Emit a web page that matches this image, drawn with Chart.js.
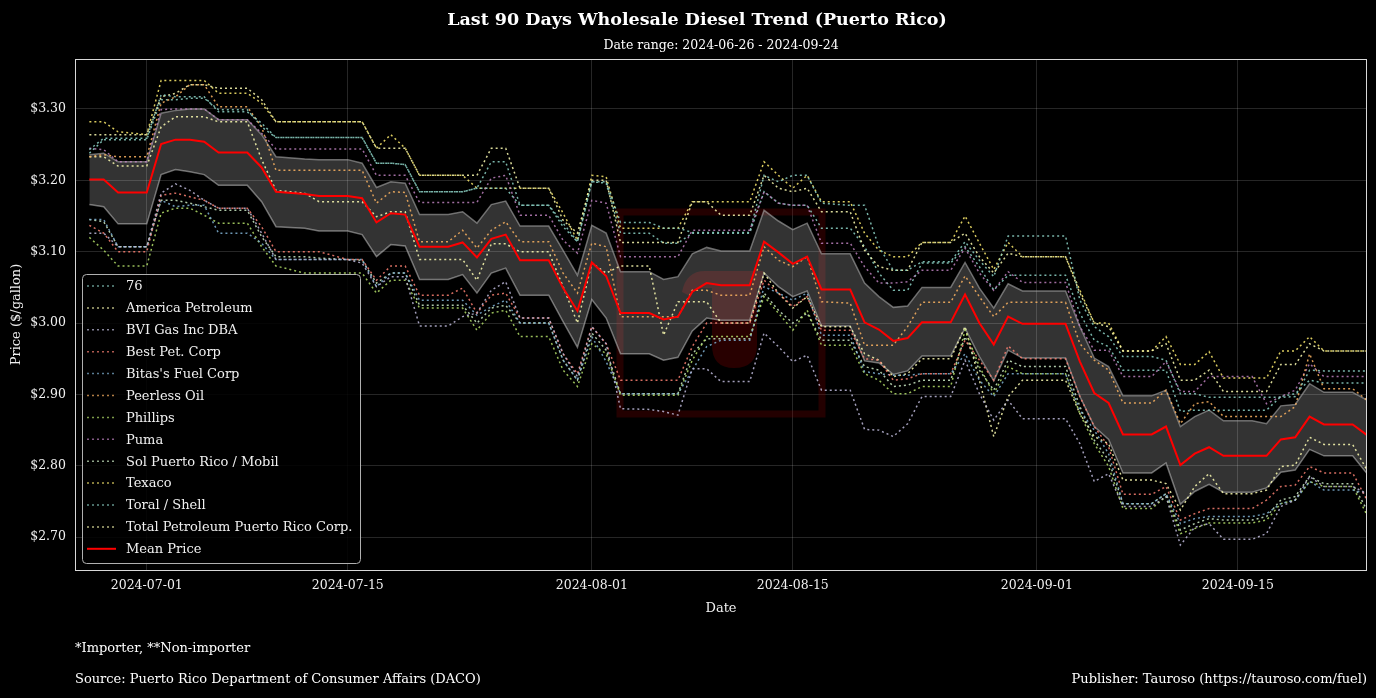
<!DOCTYPE html>
<html>
<head>
<meta charset="utf-8">
<title>Last 90 Days Wholesale Diesel Trend (Puerto Rico)</title>
<script src="https://cdn.jsdelivr.net/npm/chart.js@4.4.1/dist/chart.umd.min.js"></script>
<style>
  html, body { margin: 0; padding: 0; background: #000; }
  #wrap { width: 1376px; height: 698px; }
</style>
</head>
<body>
<div id="wrap"><canvas id="chart" width="1376" height="698"></canvas></div>
<script>
// day 0 = 2024-06-26, only days with a reported price change are listed
const days = [
  1,2,3,5,6,7,8,9,10,12,13,14,16,17,19,
  20,21,22,23,24,26,27,28,29,30,31,33,34,35,36,37,
  38,40,41,42,43,44,45,47,48,49,50,51,52,54,
  55,56,57,58,59,61,62,63,64,65,66,69,70,71,72,
  73,75,76,77,78,79,80,82,83,84,85,86,87,89,90
]

const tickDays = [5, 19, 36, 50, 67, 81]
const tickLabels = ["2024-07-01", "2024-07-15", "2024-08-01", "2024-08-15", "2024-09-01", "2024-09-15"]
const priceTicks = [2.70, 2.80, 2.90, 3.00, 3.10, 3.20, 3.30]

const meanPrice = [
  3.201,3.201,3.183,3.183,3.251,3.257,3.257,3.254,3.239,3.239,3.218,3.184,3.181,3.178,3.178,
  3.175,3.141,3.154,3.152,3.107,3.107,3.113,3.092,3.118,3.124,3.088,3.088,3.049,3.017,3.085,3.066,
  3.014,3.014,3.005,3.009,3.044,3.056,3.053,3.053,3.114,3.099,3.083,3.093,3.047,3.047,
  3.001,2.991,2.975,2.979,3.001,3.001,3.040,3.000,2.970,3.009,2.999,2.999,2.946,2.902,2.888,
  2.844,2.844,2.855,2.801,2.817,2.826,2.814,2.814,2.814,2.837,2.840,2.869,2.858,2.858,2.843
]
const bandUpper = [
  3.236,3.238,3.226,3.226,3.294,3.298,3.300,3.300,3.285,3.285,3.264,3.233,3.230,3.229,3.229,
  3.224,3.190,3.198,3.196,3.152,3.152,3.156,3.140,3.166,3.171,3.136,3.136,3.102,3.067,3.137,3.126,
  3.072,3.072,3.061,3.065,3.097,3.106,3.101,3.101,3.158,3.143,3.131,3.140,3.097,3.097,
  3.056,3.037,3.022,3.024,3.050,3.050,3.085,3.049,3.021,3.055,3.045,3.045,2.995,2.951,2.939,
  2.898,2.898,2.906,2.855,2.869,2.878,2.863,2.863,2.859,2.884,2.886,2.915,2.903,2.903,2.892
]
const bandLower = [
  3.166,3.163,3.139,3.139,3.208,3.215,3.212,3.208,3.193,3.193,3.170,3.135,3.133,3.129,3.129,
  3.124,3.093,3.110,3.108,3.061,3.061,3.068,3.042,3.070,3.077,3.039,3.039,3.002,2.966,3.033,3.007,
  2.957,2.957,2.948,2.952,2.989,3.007,3.004,3.004,3.070,3.051,3.037,3.045,2.996,2.996,
  2.947,2.944,2.928,2.933,2.954,2.954,2.993,2.953,2.919,2.962,2.951,2.951,2.897,2.855,2.837,
  2.790,2.790,2.804,2.746,2.764,2.774,2.763,2.763,2.769,2.791,2.794,2.823,2.814,2.814,2.789
]

const p76 = [
  3.243,3.259,3.259,3.259,3.320,3.317,3.317,3.317,3.296,3.296,3.280,3.260,3.260,3.260,3.260,
  3.260,3.224,3.224,3.222,3.184,3.184,3.184,3.189,3.189,3.189,3.165,3.165,3.140,3.114,3.198,3.198,
  3.141,3.141,3.133,3.133,3.127,3.127,3.127,3.127,3.207,3.198,3.207,3.207,3.168,3.165,
  3.165,3.107,3.074,3.074,3.086,3.086,3.114,3.088,3.065,3.122,3.122,3.122,3.032,2.995,2.981,
  2.953,2.953,2.948,2.901,2.901,2.896,2.896,2.896,2.896,2.896,2.897,2.934,2.933,2.933,2.933
]
const americaPetroleum = [
  3.264,3.264,3.264,3.264,3.317,3.322,3.334,3.334,3.329,3.329,3.313,3.282,3.282,3.282,3.282,
  3.282,3.245,3.245,3.245,3.207,3.207,3.207,3.207,3.245,3.245,3.189,3.189,3.144,3.126,3.200,3.200,
  3.113,3.113,3.113,3.113,3.170,3.170,3.151,3.151,3.207,3.189,3.184,3.189,3.156,3.156,
  3.102,3.079,3.074,3.074,3.113,3.113,3.126,3.093,3.070,3.098,3.093,3.093,3.042,3.000,2.995,
  2.961,2.961,2.971,2.920,2.920,2.934,2.904,2.904,2.904,2.942,2.942,2.971,2.961,2.961,2.961
]
const bviGas = [
  3.126,3.126,3.107,3.107,3.182,3.195,3.186,3.172,3.161,3.161,3.126,3.089,3.089,3.089,3.089,
  3.084,3.051,3.065,3.065,2.996,2.996,3.009,3.014,3.046,3.058,3.007,3.007,2.957,2.925,2.995,2.971,
  2.880,2.879,2.876,2.871,2.936,2.936,2.918,2.918,2.986,2.967,2.946,2.955,2.906,2.906,
  2.851,2.850,2.841,2.859,2.897,2.897,2.948,2.901,2.864,2.892,2.866,2.866,2.831,2.778,2.789,
  2.743,2.743,2.757,2.689,2.714,2.719,2.697,2.697,2.705,2.743,2.752,2.785,2.771,2.771,2.761
]
const bestPet = [
  3.137,3.126,3.100,3.100,3.179,3.182,3.177,3.172,3.161,3.161,3.135,3.100,3.100,3.100,3.089,
  3.089,3.060,3.080,3.080,3.039,3.039,3.049,3.014,3.039,3.042,3.007,3.007,2.957,2.929,2.995,2.971,
  2.920,2.920,2.920,2.920,2.967,3.000,3.000,3.000,3.060,3.042,3.023,3.037,2.990,2.990,
  2.950,2.948,2.920,2.922,2.929,2.929,2.976,2.948,2.920,2.968,2.950,2.950,2.897,2.855,2.827,
  2.760,2.760,2.771,2.724,2.733,2.740,2.740,2.740,2.752,2.771,2.773,2.799,2.790,2.790,2.752
]
const bitasFuel = [
  3.145,3.145,3.107,3.107,3.172,3.163,3.165,3.165,3.126,3.126,3.112,3.089,3.089,3.089,3.089,
  3.089,3.051,3.070,3.070,3.032,3.032,3.032,3.011,3.023,3.032,3.000,3.000,2.948,2.920,2.981,2.946,
  2.901,2.901,2.901,2.901,2.934,2.967,2.976,2.976,3.051,3.042,3.032,3.042,2.983,2.983,
  2.932,2.929,2.927,2.927,2.929,2.929,2.957,2.920,2.897,2.929,2.929,2.929,2.878,2.850,2.817,
  2.747,2.747,2.761,2.719,2.726,2.729,2.729,2.729,2.733,2.747,2.752,2.778,2.766,2.766,2.761
]
const peerlessOil = [
  3.233,3.236,3.233,3.233,3.308,3.317,3.334,3.334,3.303,3.303,3.275,3.214,3.214,3.214,3.214,
  3.214,3.168,3.184,3.183,3.114,3.114,3.130,3.105,3.130,3.142,3.114,3.114,3.070,3.042,3.112,3.107,
  3.009,3.009,3.009,3.009,3.046,3.046,3.039,3.039,3.107,3.088,3.079,3.093,3.030,3.028,
  2.969,2.969,2.969,2.995,3.029,3.029,3.066,3.037,3.009,3.029,3.029,3.029,2.971,2.948,2.934,
  2.888,2.888,2.906,2.859,2.887,2.890,2.869,2.869,2.869,2.869,2.883,2.957,2.908,2.908,2.892
]
const phillips = [
  3.120,3.102,3.080,3.080,3.154,3.161,3.161,3.151,3.140,3.140,3.107,3.080,3.070,3.070,3.070,
  3.070,3.042,3.060,3.060,3.021,3.021,3.021,2.990,3.014,3.018,2.981,2.981,2.934,2.911,2.971,2.957,
  2.899,2.899,2.899,2.899,2.948,2.981,2.981,2.981,3.037,3.014,2.990,3.018,2.969,2.969,
  2.929,2.920,2.901,2.901,2.911,2.911,2.990,2.939,2.901,2.939,2.929,2.929,2.873,2.831,2.799,
  2.740,2.740,2.757,2.705,2.712,2.720,2.720,2.720,2.724,2.747,2.752,2.778,2.771,2.771,2.731
]
const puma = [
  3.245,3.243,3.226,3.226,3.299,3.300,3.300,3.300,3.285,3.285,3.266,3.244,3.244,3.244,3.244,
  3.244,3.207,3.207,3.207,3.169,3.169,3.169,3.169,3.203,3.207,3.151,3.151,3.116,3.098,3.172,3.168,
  3.093,3.093,3.093,3.093,3.130,3.130,3.130,3.130,3.184,3.168,3.165,3.165,3.112,3.112,
  3.079,3.056,3.056,3.058,3.074,3.074,3.105,3.070,3.046,3.072,3.057,3.057,2.995,2.962,2.962,
  2.925,2.925,2.946,2.904,2.904,2.925,2.925,2.925,2.887,2.897,2.906,2.943,2.925,2.925,2.925
]
const solMobil = [
  3.145,3.142,3.107,3.107,3.172,3.172,3.168,3.163,3.158,3.158,3.121,3.093,3.093,3.091,3.089,
  3.088,3.056,3.070,3.070,3.025,3.025,3.025,3.000,3.021,3.025,3.000,3.000,2.948,2.920,2.986,2.962,
  2.901,2.901,2.901,2.901,2.957,2.978,2.978,2.978,3.042,3.018,3.000,3.014,2.976,2.976,
  2.939,2.934,2.911,2.913,2.920,2.920,2.981,2.934,2.906,2.948,2.939,2.939,2.883,2.836,2.808,
  2.747,2.747,2.761,2.710,2.719,2.726,2.724,2.724,2.729,2.752,2.757,2.785,2.775,2.775,2.738
]
const texaco = [
  3.282,3.282,3.268,3.264,3.340,3.340,3.340,3.340,3.322,3.322,3.308,3.282,3.282,3.282,3.282,
  3.282,3.245,3.264,3.245,3.207,3.207,3.207,3.189,3.189,3.189,3.189,3.189,3.154,3.116,3.207,3.205,
  3.133,3.133,3.133,3.133,3.170,3.170,3.170,3.170,3.226,3.207,3.189,3.207,3.170,3.170,
  3.126,3.102,3.093,3.093,3.113,3.113,3.150,3.112,3.075,3.113,3.093,3.093,3.046,3.000,3.000,
  2.961,2.961,2.981,2.942,2.942,2.960,2.923,2.923,2.923,2.961,2.961,2.981,2.961,2.961,2.961
]
const toralShell = [
  3.238,3.257,3.257,3.257,3.313,3.313,3.315,3.315,3.299,3.299,3.275,3.260,3.260,3.260,3.260,
  3.260,3.224,3.224,3.222,3.184,3.184,3.184,3.189,3.226,3.226,3.165,3.165,3.135,3.114,3.198,3.196,
  3.126,3.126,3.112,3.112,3.126,3.126,3.126,3.126,3.184,3.168,3.165,3.165,3.133,3.133,
  3.107,3.070,3.046,3.046,3.084,3.084,3.107,3.079,3.046,3.067,3.067,3.067,3.014,2.976,2.967,
  2.934,2.934,2.934,2.876,2.878,2.878,2.878,2.878,2.878,2.897,2.901,2.920,2.916,2.916,2.916
]
const totalPetroleum = [
  3.233,3.233,3.220,3.220,3.275,3.289,3.289,3.289,3.282,3.282,3.229,3.186,3.182,3.170,3.170,
  3.170,3.149,3.156,3.156,3.089,3.089,3.089,3.060,3.111,3.111,3.100,3.100,3.051,3.000,3.084,3.070,
  3.080,3.080,2.983,3.030,3.030,3.030,3.000,3.000,3.070,3.042,3.021,3.037,2.995,2.995,
  2.957,2.948,2.925,2.929,2.950,2.950,2.995,2.920,2.841,2.897,2.920,2.920,2.873,2.841,2.831,
  2.780,2.780,2.775,2.738,2.771,2.789,2.761,2.761,2.766,2.799,2.801,2.840,2.830,2.830,2.794
]

const series = [
  { name: "76", values: p76, color: "141,211,199" },
  { name: "America Petroleum", values: americaPetroleum, color: "255,255,179" },
  { name: "BVI Gas Inc DBA", values: bviGas, color: "190,186,218" },
  { name: "Best Pet. Corp", values: bestPet, color: "251,128,114" },
  { name: "Bitas's Fuel Corp", values: bitasFuel, color: "128,177,211" },
  { name: "Peerless Oil", values: peerlessOil, color: "253,180,98" },
  { name: "Phillips", values: phillips, color: "179,222,105" },
  { name: "Puma", values: puma, color: "188,128,189" },
  { name: "Sol Puerto Rico / Mobil", values: solMobil, color: "204,235,197" },
  { name: "Texaco", values: texaco, color: "255,237,111" },
  { name: "Toral / Shell", values: toralShell, color: "141,211,199" },
  { name: "Total Petroleum Puerto Rico Corp.", values: totalPetroleum, color: "255,255,179" },
]

const FONT = "'DejaVu Serif', serif"
Chart.defaults.font.family = FONT
Chart.defaults.font.size = 12.5
Chart.defaults.color = "#f0f0f0"

let toPoints = (vals) => days.map((d, i) => ({ x: d, y: vals[i] }))

let datasets = []
datasets.push({
  label: "Mean Price", data: toPoints(meanPrice),
  borderColor: "#ff0000", borderWidth: 2, pointRadius: 0, order: 0,
})
series.forEach((s) => {
  datasets.push({
    label: s.name, data: toPoints(s.values),
    borderColor: "rgba(" + s.color + ",0.85)", borderWidth: 1.5, borderDash: [2, 3],
    pointRadius: 0, order: 1, legendColor: "rgba(" + s.color + ",0.7)",
  })
})
datasets.push({
  label: "band upper", data: toPoints(bandUpper),
  borderColor: "rgba(170,170,170,0.6)", borderWidth: 1.5,
  backgroundColor: "rgba(255,255,255,0.2)", fill: "+1", pointRadius: 0, order: 2,
})
datasets.push({
  label: "band lower", data: toPoints(bandLower),
  borderColor: "rgba(170,170,170,0.6)", borderWidth: 1.5, fill: false, pointRadius: 0, order: 2,
})

// watermark, frame, legend and the texts around the plot
let decorations = {
  id: "decorations",
  beforeDatasetsDraw(chart) {
    let ctx = chart.ctx
    ctx.save()
    ctx.strokeStyle = "rgba(140,0,0,0.25)"
    ctx.lineWidth = 7
    ctx.strokeRect(620, 212, 202, 202)
    // the "tau" mark inside the square
    ctx.fillStyle = "rgba(160,0,0,0.25)"
    ctx.beginPath()
    ctx.moveTo(682, 292)
    ctx.quadraticCurveTo(686, 271, 705, 271)
    ctx.lineTo(763, 271)
    ctx.lineTo(763, 288)
    ctx.lineTo(757, 288)
    ctx.lineTo(757, 345)
    ctx.quadraticCurveTo(757, 368, 734, 368)
    ctx.quadraticCurveTo(712, 368, 712, 345)
    ctx.lineTo(712, 288)
    ctx.lineTo(703, 288)
    ctx.quadraticCurveTo(692, 288, 688, 295)
    ctx.closePath()
    ctx.fill()
    ctx.restore()
  },
  afterDraw(chart) {
    let ctx = chart.ctx
    let area = chart.chartArea
    ctx.save()
    ctx.strokeStyle = "#d8d8d8"
    ctx.lineWidth = 1
    ctx.strokeRect(area.left + 0.5, area.top + 0.5, area.right - area.left - 1, area.bottom - area.top)

    // legend
    let entries = datasets.filter((d) => !d.label.startsWith("band"))
    entries = entries.slice(1).concat(entries.slice(0, 1))
    ctx.fillStyle = "rgba(0,0,0,0.85)"
    ctx.strokeStyle = "#b0b0b0"
    ctx.beginPath()
    ctx.roundRect(82.5, 274.5, 278, 289, 4)
    ctx.fill()
    ctx.stroke()
    ctx.font = "13px " + FONT
    ctx.textBaseline = "middle"
    ctx.textAlign = "left"
    entries.forEach((d, i) => {
      let y = 286 + i * 21.9
      ctx.beginPath()
      ctx.strokeStyle = d.legendColor || d.borderColor
      ctx.lineWidth = d.label === "Mean Price" ? 2 : 1.5
      ctx.setLineDash(d.borderDash || [])
      ctx.moveTo(87, y)
      ctx.lineTo(116, y)
      ctx.stroke()
      ctx.setLineDash([])
      ctx.fillStyle = "#f0f0f0"
      ctx.fillText(d.label, 126, y + 1)
    })

    // titles and notes
    ctx.fillStyle = "#ffffff"
    ctx.textAlign = "center"
    ctx.font = "bold 17.5px " + FONT
    ctx.fillText("Last 90 Days Wholesale Diesel Trend (Puerto Rico)", 697, 20)
    ctx.font = "12.5px " + FONT
    ctx.fillText("Date range: 2024-06-26 - 2024-09-24", 721, 46)
    ctx.font = "13px " + FONT
    ctx.textAlign = "left"
    ctx.fillText("*Importer, **Non-importer", 75, 649)
    ctx.fillText("Source: Puerto Rico Department of Consumer Affairs (DACO)", 75, 680)
    ctx.textAlign = "right"
    ctx.fillText("Publisher: Tauroso (https://tauroso.com/fuel)", 1367, 680)
    ctx.restore()
  },
}

let chartPrices = new Chart(document.querySelector("#chart"), {
  type: "line",
  data: { datasets: datasets },
  options: {
    responsive: false,
    animation: false,
    devicePixelRatio: 1,
    layout: { padding: { left: 0, top: 59, right: 9, bottom: 78 } },
    elements: { line: { tension: 0 } },
    plugins: {
      legend: { display: false },
      tooltip: { enabled: false },
    },
    scales: {
      x: {
        type: "linear", min: 0, max: 90,
        afterFit: (scale) => { scale.height = 50 },
        afterBuildTicks: (scale) => { scale.ticks = tickDays.map((v) => ({ value: v })) },
        grid: { color: "rgba(255,255,255,0.15)", drawTicks: false },
        border: { display: false },
        ticks: {
          padding: 8, autoSkip: false, maxRotation: 0, color: "#f0f0f0",
          callback: (v) => tickLabels[tickDays.indexOf(v)],
        },
        title: { display: true, text: "Date", color: "#f0f0f0", font: { size: 13 }, padding: { top: 0, bottom: 4 } },
      },
      y: {
        type: "linear", min: 2.654, max: 3.37,
        afterFit: (scale) => { scale.width = 75 },
        afterBuildTicks: (scale) => { scale.ticks = priceTicks.map((v) => ({ value: v })) },
        grid: { color: "rgba(255,255,255,0.15)", drawTicks: false },
        border: { display: false },
        ticks: {
          padding: 9, color: "#f0f0f0",
          callback: (v) => "$" + Number(v).toFixed(2),
        },
        title: { display: true, text: "Price ($/gallon)", color: "#f0f0f0", font: { size: 13 }, padding: { top: 9, bottom: 0 } },
      },
    },
  },
  plugins: [decorations],
})
</script>
</body>
</html>
